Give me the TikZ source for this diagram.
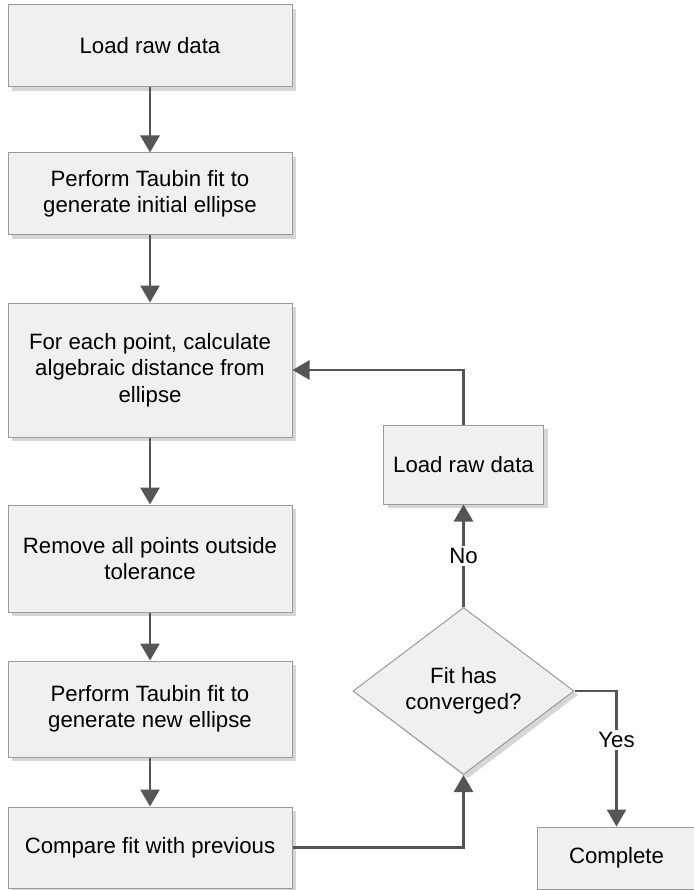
\documentclass[tikz,border=0pt]{standalone}
\usepackage{fontspec}
\setmainfont{Liberation Sans}
\usetikzlibrary{shapes.geometric,shadows,arrows.meta}
\definecolor{boxfill}{HTML}{F0F0F0}
\definecolor{boxline}{HTML}{9A9A9A}
\definecolor{arrowc}{HTML}{555555}
\definecolor{shadowc}{HTML}{D6D6D6}
\tikzset{
  procbox/.style={draw=boxline, line width=1pt, fill=boxfill, rectangle, align=center, inner sep=0pt,
    font=\fontsize{22.2}{26.5}\selectfont,
    drop shadow={shadow xshift=4pt, shadow yshift=-4pt, fill=shadowc, opacity=1}},
  decbox/.style={procbox, diamond, aspect=1.32},
  flow/.style={draw=arrowc, line width=2.6pt, -{Triangle[length=17pt,width=19pt]}},
  flowlbl/.style={fill=white, inner sep=2pt, font=\fontsize{22.2}{26.5}\selectfont}
}
\begin{document}
\begin{tikzpicture}[x=1pt,y=-1pt]
\useasboundingbox (0,0) rectangle (693,890);
\node[procbox, minimum width=284pt, minimum height=82pt] (b1) at (150,46) {Load raw data};
\node[procbox, minimum width=284pt, minimum height=82pt] (b2) at (150,194) {Perform Taubin fit to\\generate initial ellipse};
\node[procbox, minimum width=284pt, minimum height=134pt] (b3) at (150,370) {For each point, calculate\\algebraic distance from\\ellipse};
\node[procbox, minimum width=284pt, minimum height=107pt] (b4) at (150,558.5) {Remove all points outside\\tolerance};
\node[procbox, minimum width=284pt, minimum height=96pt] (b5) at (150,709) {Perform Taubin fit to\\generate new ellipse};
\node[procbox, minimum width=284pt, minimum height=81pt] (b6) at (150,847.5) {Compare fit with previous};
\node[procbox, minimum width=160pt, minimum height=79pt] (r) at (463.5,464.5) {Load raw data};
\node[decbox, minimum width=221pt, minimum height=167pt] (d) at (463.5,691) {Fit has\\converged?};
\node[procbox, minimum width=159pt, minimum height=62pt] (c) at (616.5,858) {Complete};
\draw[flow] (b1.south) -- (b2.north);
\draw[flow] (b2.south) -- (b3.north);
\draw[flow] (b3.south) -- (b4.north);
\draw[flow] (b4.south) -- (b5.north);
\draw[flow] (b5.south) -- (b6.north);
\draw[flow] (b6.east) -| (d.south);
\draw[flow] (d.north) -- node[flowlbl, pos=0.5] {No} (r.south);
\draw[flow] (r.north) |- (b3.east);
\draw[flow] (d.east) -| node[flowlbl, pos=0.68] {Yes} (c.north);
\end{tikzpicture}
\end{document}
